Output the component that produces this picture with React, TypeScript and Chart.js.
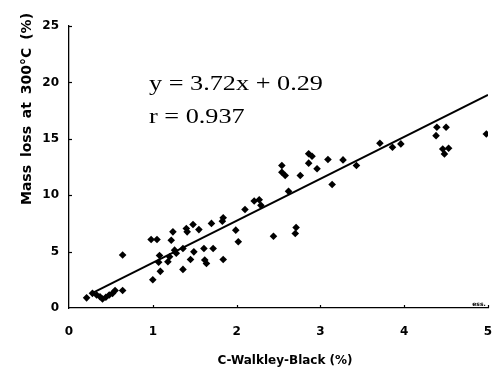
import React, { useEffect, useRef } from "react";
import { Chart, registerables } from "chart.js";

Chart.register(...registerables);

// C-Walkley-Black (%) vs mass loss at 300°C (%)
const carbonPct: number[] = [
  0.21, 0.28, 0.33, 0.37, 0.40, 0.44, 0.48, 0.52, 0.55, 0.64, 0.64,
  0.98, 1.05, 1.00, 1.08, 1.09, 1.07, 1.18, 1.20, 1.22, 1.24, 1.26, 1.28,
  1.36, 1.36, 1.40, 1.41, 1.45, 1.48, 1.49, 1.55, 1.61, 1.62, 1.64, 1.70,
  1.72, 1.83, 1.84, 1.84, 1.99, 2.02, 2.10,
  2.21, 2.27, 2.29, 2.44, 2.54, 2.54, 2.58, 2.62, 2.70, 2.71, 2.76, 2.86,
  2.86, 2.90, 2.96, 3.09, 3.14, 3.27, 3.43,
  3.71, 3.86, 3.96, 4.38, 4.39, 4.46, 4.48, 4.50, 4.53, 4.98,
];
const massLossPct: number[] = [
  0.9, 1.3, 1.15, 1.0, 0.8, 0.95, 1.15, 1.3, 1.55, 1.55, 4.7,
  6.07, 6.07, 2.5, 4.65, 3.25, 4.05, 4.1, 4.54, 6.0, 6.75, 5.13, 4.85,
  3.42, 5.28, 7.05, 6.75, 4.3, 7.4, 4.98, 6.95, 5.28, 4.25, 3.95, 7.5,
  5.28, 7.7, 8.0, 4.3, 6.9, 5.87, 8.73,
  9.48, 9.6, 9.1, 6.36, 12.63, 12.04, 11.75, 10.34, 6.6, 7.13, 11.75, 13.67,
  12.84, 13.45, 12.34, 13.16, 10.95, 13.13, 12.63,
  14.6, 14.25, 14.55, 15.28, 16.02, 14.1, 13.66, 16.02, 14.16, 15.43,
];

// Regression line endpoints
const fitX: number[] = [0.27, 5.0];
const fitY: number[] = [1.3, 18.9];

const xTicks: number[] = [0, 1, 2, 3, 4, 5];
const yTicks: number[] = [0, 5, 10, 15, 20, 25];

const xTitle = "C-Walkley-Black (%)";
const yTitle = "Mass loss at 300°C (%)";
const equationLines: string[] = ["y = 3.72x + 0.29", "r = 0.937"];
const cornerNote = "ess.";

const BOLD_FONT = "'DejaVu Sans', sans-serif";

const decorPlugin = {
  id: "decor",
  afterDraw(chart: any) {
    const ctx = chart.ctx;
    const xs = chart.scales.x;
    const ys = chart.scales.y;
    const area = chart.chartArea;
    ctx.save();
    ctx.strokeStyle = "#000";
    ctx.lineWidth = 1.2;
    // inward ticks
    yTicks.forEach((v) => {
      if (v === 0) return;
      const py = Math.round(ys.getPixelForValue(v)) + 0.5;
      ctx.beginPath();
      ctx.moveTo(area.left, py);
      ctx.lineTo(area.left + 3, py);
      ctx.stroke();
    });
    xTicks.forEach((v) => {
      if (v === 0) return;
      const px = Math.round(xs.getPixelForValue(v)) + 0.5;
      ctx.beginPath();
      ctx.moveTo(px, area.bottom);
      ctx.lineTo(px, area.bottom - 3);
      ctx.stroke();
    });

    ctx.fillStyle = "#000";
    // y title
    ctx.save();
    ctx.translate(27, 109);
    ctx.rotate(-Math.PI / 2);
    ctx.font = `bold 14px ${BOLD_FONT}`;
    try {
      (ctx as any).wordSpacing = "3px";
    } catch (e) {}
    ctx.textAlign = "center";
    ctx.textBaseline = "middle";
    ctx.fillText(yTitle, 0, 0);
    ctx.restore();

    // x title
    ctx.font = `bold 12px ${BOLD_FONT}`;
    ctx.textAlign = "center";
    ctx.textBaseline = "middle";
    ctx.fillText(xTitle, 285, 361);

    // equation
    ctx.font = "22px 'Liberation Serif', 'Times New Roman', serif";
    ctx.textAlign = "left";
    ctx.textBaseline = "alphabetic";
    const w0 = ctx.measureText(equationLines[0]).width;
    const sx = 174 / w0;
    ctx.save();
    ctx.translate(149, 0);
    ctx.scale(sx, 1);
    ctx.fillText(equationLines[0], 0, 90);
    ctx.fillText(equationLines[1], 0, 123);
    ctx.restore();

    // small corner note
    ctx.font = `bold 6px ${BOLD_FONT}`;
    ctx.textAlign = "center";
    ctx.textBaseline = "middle";
    ctx.fillText(cornerNote, 479, 304);
    ctx.restore();
  },
};

export default function App() {
  const canvasRef = useRef<HTMLCanvasElement | null>(null);

  useEffect(() => {
    if (!canvasRef.current) return;
    const points = carbonPct.map((x, i) => ({ x, y: massLossPct[i] }));
    const fit = fitX.map((x, i) => ({ x, y: fitY[i] }));
    const chart = new Chart(canvasRef.current, {
      type: "scatter",
      data: {
        datasets: [
          {
            type: "line",
            data: fit,
            borderColor: "#000",
            borderWidth: 2,
            pointRadius: 0,
            fill: false,
          },
          {
            data: points,
            pointStyle: "rectRot",
            pointRadius: 3.8,
            backgroundColor: "#000",
            borderColor: "#000",
            borderWidth: 0,
          },
        ],
      },
      options: {
        animation: false,
        responsive: true,
        maintainAspectRatio: false,
        layout: { autoPadding: false, padding: { left: 0, top: 26, right: 6, bottom: 0 } },
        plugins: {
          legend: { display: false },
          tooltip: { enabled: false },
        },
        scales: {
          x: {
            type: "linear",
            min: 0,
            max: 5,
            afterFit: (s: any) => {
              s.height = 71;
              s.paddingRight = 0;
              s.paddingLeft = 0;
            },
            afterBuildTicks: (s: any) => {
              s.ticks = xTicks.map((v) => ({ value: v }));
            },
            grid: { display: false, drawTicks: false },
            border: { display: true, color: "#000", width: 1.3 },
            ticks: {
              padding: 17,
              color: "#000",
              font: { family: BOLD_FONT, size: 12, weight: "bold" },
            },
          },
          y: {
            type: "linear",
            min: 0,
            max: 25,
            afterFit: (s: any) => {
              s.width = 69;
              s.paddingTop = 0;
              s.paddingBottom = 0;
            },
            afterBuildTicks: (s: any) => {
              s.ticks = yTicks.map((v) => ({ value: v }));
            },
            grid: { display: false, drawTicks: false },
            border: { display: true, color: "#000", width: 1.3 },
            ticks: {
              padding: 10,
              color: "#000",
              font: { family: BOLD_FONT, size: 12, weight: "bold" },
            },
          },
        },
      },
      plugins: [decorPlugin],
    });
    return () => chart.destroy();
  }, []);

  return (
    <div
      style={{
        position: "fixed",
        left: 0,
        top: 0,
        width: 494,
        height: 379,
        background: "#fff",
      }}
    >
      <canvas ref={canvasRef} />
    </div>
  );
}
